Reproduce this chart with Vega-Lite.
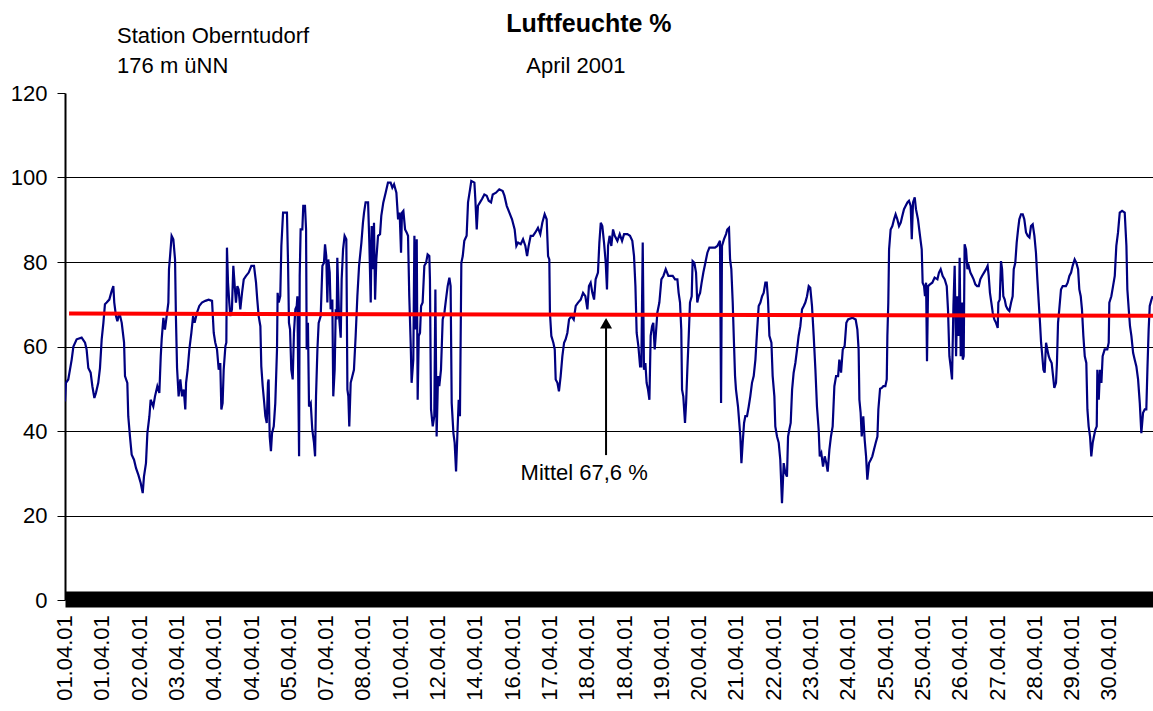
{
  "$schema": "https://vega.github.io/schema/vega-lite/v6.json",
  "width": 1088,
  "height": 507,
  "autosize": "none",
  "padding": {"left": 65, "top": 93, "right": 0, "bottom": 111},
  "background": "white",
  "config": {
    "view": {"stroke": null},
    "font": "Liberation Sans",
    "text": {"font": "Liberation Sans", "color": "black"},
    "axis": {"title": null, "labelFont": "Liberation Sans", "labelColor": "black", "labelFontSize": 22},
    "axisX": {"labels": false, "ticks": false, "grid": false, "domainColor": "black", "domainWidth": 16, "offset": -1},
    "axisY": {"labelPadding": 10, "tickSize": 8, "tickColor": "black", "tickWidth": 1, "domainColor": "black", "domainWidth": 2, "grid": true, "gridColor": "black", "gridWidth": 1}
  },
  "layer": [
    {
      "data": {"values": [
{"i":0,"v":47},{"i":0.6,"v":51.4},{"i":2.1,"v":52.2},{"i":4.3,"v":56.9},{"i":5.4,"v":60},{"i":7.5,"v":61.7},{"i":10.7,"v":62.1},{"i":12.9,"v":60.9},{"i":13.9,"v":59.3},{"i":15.0,"v":54.9},{"i":16.5,"v":53.8},{"i":17.6,"v":50.6},{"i":18.9,"v":47.8},{"i":19.9,"v":49},{"i":21.4,"v":51.4},{"i":22.5,"v":54.9},{"i":23.6,"v":61.7},{"i":24.7,"v":65.6},{"i":25.7,"v":70},{"i":26.8,"v":70.4},{"i":28.5,"v":71.1},{"i":30.0,"v":73.1},{"i":31.1,"v":74.3},{"i":31.7,"v":70.4},{"i":32.8,"v":67.2},{"i":33.7,"v":66},{"i":35.0,"v":68},{"i":36.5,"v":65.6},{"i":38.0,"v":60.9},{"i":38.6,"v":53},{"i":40.1,"v":51.4},{"i":40.7,"v":43.5},{"i":41.8,"v":38.7},{"i":42.9,"v":34.4},{"i":44.4,"v":33.2},{"i":45.7,"v":31.2},{"i":47.2,"v":29.6},{"i":48.7,"v":27.7},{"i":50.0,"v":25.3},{"i":50.8,"v":29.2},{"i":52.1,"v":32.4},{"i":53.0,"v":39.5},{"i":54.3,"v":43.5},{"i":55.1,"v":47.4},{"i":56.8,"v":45.8},{"i":57.9,"v":48.2},{"i":59.4,"v":50.6},{"i":60.7,"v":49},{"i":61.6,"v":57.7},{"i":62.2,"v":61.7},{"i":63.3,"v":66.8},{"i":64.3,"v":64},{"i":65.4,"v":67.2},{"i":66.5,"v":70.4},{"i":66.9,"v":78.3},{"i":67.6,"v":81.4},{"i":68.6,"v":86.2},{"i":69.7,"v":85.4},{"i":70.8,"v":80.6},{"i":71.4,"v":66.4},{"i":72.1,"v":54.9},{"i":73.1,"v":48.2},{"i":74.2,"v":52.2},{"i":75.3,"v":48.2},{"i":76.4,"v":49.8},{"i":77.4,"v":45.1},{"i":77.9,"v":51.4},{"i":78.9,"v":54.5},{"i":80.0,"v":59.3},{"i":81.3,"v":63.2},{"i":82.4,"v":67.2},{"i":83.4,"v":65.6},{"i":84.9,"v":68},{"i":86.4,"v":69.6},{"i":88.1,"v":70.4},{"i":90.3,"v":70.8},{"i":92.4,"v":71.1},{"i":94.6,"v":70.8},{"i":95.7,"v":63.2},{"i":96.7,"v":60.9},{"i":97.8,"v":59.3},{"i":98.9,"v":54.5},{"i":99.9,"v":56.1},{"i":100.6,"v":45.1},{"i":101.4,"v":46.6},{"i":102.1,"v":54.5},{"i":103.2,"v":60.1},{"i":103.8,"v":60.9},{"i":104.2,"v":83.4},{"i":104.9,"v":75.1},{"i":105.7,"v":70.4},{"i":106.4,"v":67.2},{"i":107.4,"v":68.8},{"i":108.3,"v":79.1},{"i":109.2,"v":74.3},{"i":110.0,"v":70.4},{"i":110.9,"v":74.3},{"i":111.7,"v":73.5},{"i":112.8,"v":68.8},{"i":113.9,"v":72.7},{"i":115.0,"v":75.9},{"i":116.5,"v":76.7},{"i":118.2,"v":77.5},{"i":119.9,"v":79.1},{"i":121.6,"v":79.1},{"i":122.9,"v":75.1},{"i":123.7,"v":71.1},{"i":124.6,"v":67.2},{"i":125.7,"v":64.8},{"i":126.3,"v":55.3},{"i":127.2,"v":50.6},{"i":128.0,"v":47.4},{"i":128.9,"v":43.5},{"i":129.8,"v":41.9},{"i":130.6,"v":51.4},{"i":131.0,"v":52.2},{"i":131.7,"v":38.7},{"i":132.5,"v":35.2},{"i":133.2,"v":39.5},{"i":134.3,"v":41.1},{"i":135.3,"v":46.6},{"i":136.4,"v":59.3},{"i":136.8,"v":72.7},{"i":137.5,"v":70.4},{"i":138.5,"v":71.9},{"i":139.2,"v":83.8},{"i":140.3,"v":91.7},{"i":142.8,"v":91.7},{"i":143.5,"v":79.8},{"i":144.1,"v":65.6},{"i":144.8,"v":64},{"i":145.6,"v":54.5},{"i":146.5,"v":52.2},{"i":147.3,"v":63.2},{"i":148.2,"v":68.8},{"i":149.1,"v":69.6},{"i":149.5,"v":71.9},{"i":150.6,"v":34},{"i":151.0,"v":76.7},{"i":151.6,"v":87.7},{"i":152.7,"v":87.7},{"i":153.3,"v":93.3},{"i":154.4,"v":93.3},{"i":155.1,"v":87.7},{"i":155.5,"v":59.3},{"i":156.3,"v":65.6},{"i":157.0,"v":45.8},{"i":158.1,"v":46.6},{"i":159.1,"v":40.3},{"i":160.2,"v":37.2},{"i":160.9,"v":34},{"i":161.5,"v":48.2},{"i":162.4,"v":59.3},{"i":163.2,"v":65.6},{"i":164.5,"v":67.2},{"i":165.6,"v":79.1},{"i":166.6,"v":79.8},{"i":167.3,"v":84.2},{"i":168.1,"v":81.4},{"i":168.8,"v":70.4},{"i":169.4,"v":80.6},{"i":170.3,"v":77.5},{"i":170.9,"v":68.8},{"i":172.0,"v":71.1},{"i":172.6,"v":48.2},{"i":173.5,"v":54.5},{"i":174.2,"v":68.8},{"i":174.8,"v":66.4},{"i":175.2,"v":81},{"i":176.3,"v":67.2},{"i":177.4,"v":62.1},{"i":178.0,"v":75.9},{"i":178.9,"v":83},{"i":179.9,"v":86.2},{"i":181.0,"v":85.4},{"i":181.7,"v":49.8},{"i":182.3,"v":48.2},{"i":182.9,"v":41.1},{"i":183.8,"v":51.4},{"i":184.9,"v":53},{"i":185.9,"v":54.5},{"i":187.0,"v":62.5},{"i":188.1,"v":71.9},{"i":189.2,"v":79.1},{"i":190.7,"v":84.6},{"i":191.7,"v":89.3},{"i":192.4,"v":91.7},{"i":193.4,"v":94.1},{"i":195.0,"v":94.1},{"i":195.8,"v":84.6},{"i":196.7,"v":70.4},{"i":197.3,"v":88.5},{"i":198.2,"v":78.3},{"i":198.8,"v":89.3},{"i":199.5,"v":71.1},{"i":200.3,"v":80.6},{"i":201.4,"v":86.2},{"i":202.7,"v":86.6},{"i":203.5,"v":90.9},{"i":204.8,"v":94.1},{"i":206.3,"v":96.4},{"i":207.8,"v":98.8},{"i":209.5,"v":98.8},{"i":210.6,"v":97.6},{"i":211.7,"v":98.4},{"i":213.2,"v":96.4},{"i":214.3,"v":90.1},{"i":215.3,"v":91.7},{"i":216.2,"v":82.2},{"i":216.8,"v":91.7},{"i":217.7,"v":92.1},{"i":218.8,"v":87.7},{"i":219.8,"v":87},{"i":220.7,"v":86.2},{"i":221.5,"v":71.9},{"i":222.4,"v":60.9},{"i":223.0,"v":51.4},{"i":224.1,"v":56.9},{"i":224.8,"v":86.2},{"i":225.4,"v":64},{"i":226.3,"v":85.4},{"i":226.9,"v":47.4},{"i":227.6,"v":62.5},{"i":228.4,"v":63.2},{"i":229.1,"v":69.6},{"i":230.1,"v":70.4},{"i":231.2,"v":79.1},{"i":232.3,"v":79.8},{"i":233.3,"v":81.8},{"i":234.4,"v":81.4},{"i":234.8,"v":75.9},{"i":235.5,"v":45.1},{"i":236.6,"v":41.1},{"i":237.6,"v":43.5},{"i":238.3,"v":73.5},{"i":239.1,"v":38.7},{"i":240.0,"v":53},{"i":240.8,"v":50.6},{"i":241.9,"v":54.5},{"i":243.0,"v":66.4},{"i":244.1,"v":68},{"i":245.1,"v":71.1},{"i":246.2,"v":74.3},{"i":247.3,"v":76.3},{"i":248.1,"v":74.3},{"i":248.8,"v":46.6},{"i":249.9,"v":39.5},{"i":250.7,"v":37.2},{"i":251.6,"v":30.4},{"i":252.4,"v":38.7},{"i":253.3,"v":47.4},{"i":254.1,"v":43.5},{"i":255.0,"v":79.8},{"i":255.9,"v":81.4},{"i":256.9,"v":85},{"i":258.4,"v":86.2},{"i":259.3,"v":94.1},{"i":260.6,"v":97.2},{"i":261.4,"v":99.2},{"i":263.4,"v":98.8},{"i":264.0,"v":94.9},{"i":264.9,"v":87.7},{"i":265.7,"v":93.3},{"i":267.0,"v":94.1},{"i":268.3,"v":94.9},{"i":269.8,"v":96},{"i":271.3,"v":95.7},{"i":272.6,"v":94.5},{"i":274.1,"v":94.1},{"i":275.2,"v":96},{"i":277.3,"v":96.4},{"i":279.4,"v":97.2},{"i":281.6,"v":96.8},{"i":282.7,"v":95.7},{"i":284.2,"v":93.3},{"i":285.9,"v":91.7},{"i":287.6,"v":90.1},{"i":289.3,"v":87.7},{"i":290.4,"v":83.8},{"i":291.5,"v":84.6},{"i":293.2,"v":84.2},{"i":294.7,"v":85.4},{"i":296.2,"v":83.8},{"i":297.3,"v":81.4},{"i":298.3,"v":83.8},{"i":299.6,"v":86.2},{"i":301.1,"v":86.2},{"i":302.6,"v":87},{"i":304.3,"v":88.1},{"i":305.8,"v":86.6},{"i":307.1,"v":89.3},{"i":308.6,"v":91.3},{"i":309.9,"v":90.1},{"i":310.8,"v":81.4},{"i":311.6,"v":80.6},{"i":312.0,"v":68},{"i":312.9,"v":62.5},{"i":314.2,"v":60.9},{"i":315.1,"v":59.3},{"i":315.7,"v":52.2},{"i":316.8,"v":51.4},{"i":317.8,"v":49.4},{"i":318.9,"v":53},{"i":320.0,"v":57.7},{"i":321.1,"v":60.9},{"i":322.1,"v":61.7},{"i":323.2,"v":63.2},{"i":324.3,"v":66.4},{"i":325.8,"v":67.2},{"i":327.3,"v":66.4},{"i":328.6,"v":69.6},{"i":330.1,"v":70.4},{"i":331.8,"v":71.1},{"i":333.3,"v":72.7},{"i":334.8,"v":71.9},{"i":336.1,"v":68.8},{"i":337.1,"v":74.3},{"i":338.2,"v":75.1},{"i":339.3,"v":72.7},{"i":340.4,"v":71.1},{"i":341.4,"v":75.9},{"i":342.9,"v":77.5},{"i":343.8,"v":84.6},{"i":344.7,"v":89.3},{"i":345.7,"v":88.5},{"i":346.8,"v":84.6},{"i":347.9,"v":79.8},{"i":348.7,"v":73.5},{"i":349.4,"v":83.8},{"i":350.4,"v":86.2},{"i":351.5,"v":83.8},{"i":352.6,"v":87.7},{"i":353.7,"v":86.2},{"i":355.4,"v":85},{"i":356.9,"v":86.6},{"i":358.4,"v":85},{"i":359.7,"v":86.6},{"i":361.8,"v":86.6},{"i":363.5,"v":86.2},{"i":365.0,"v":85},{"i":366.1,"v":81.4},{"i":367.0,"v":74.3},{"i":367.8,"v":63.2},{"i":368.9,"v":60.1},{"i":370.0,"v":55.3},{"i":370.8,"v":55.3},{"i":371.7,"v":84.6},{"i":372.5,"v":54.5},{"i":373.4,"v":56.1},{"i":374.2,"v":51.4},{"i":375.1,"v":49.8},{"i":376.0,"v":47.4},{"i":376.8,"v":62.5},{"i":377.7,"v":64.8},{"i":378.5,"v":65.6},{"i":379.4,"v":59.3},{"i":380.2,"v":63.2},{"i":381.1,"v":68},{"i":382.4,"v":70.4},{"i":383.7,"v":75.9},{"i":385.0,"v":76.7},{"i":386.5,"v":78.3},{"i":388.2,"v":76.7},{"i":391.0,"v":76.7},{"i":392.5,"v":75.9},{"i":394.0,"v":75.9},{"i":394.8,"v":72.7},{"i":395.7,"v":70.4},{"i":396.5,"v":64},{"i":397.0,"v":49.8},{"i":397.8,"v":48.2},{"i":398.9,"v":41.9},{"i":399.6,"v":46.6},{"i":400.4,"v":54.5},{"i":401.3,"v":62.5},{"i":402.1,"v":70.4},{"i":403.2,"v":71.9},{"i":403.8,"v":80.2},{"i":404.9,"v":79.8},{"i":406.0,"v":77.5},{"i":406.8,"v":70.4},{"i":407.7,"v":71.9},{"i":408.6,"v":72.7},{"i":409.6,"v":75.1},{"i":410.7,"v":77.5},{"i":412.0,"v":79.8},{"i":413.3,"v":82.2},{"i":414.6,"v":83.4},{"i":418.2,"v":83.4},{"i":419.7,"v":83.8},{"i":421.4,"v":85},{"i":422.1,"v":46.6},{"i":422.7,"v":83.8},{"i":424.0,"v":85.4},{"i":425.3,"v":86.6},{"i":426.1,"v":87.7},{"i":427.2,"v":88.1},{"i":427.9,"v":80.6},{"i":428.7,"v":78.3},{"i":429.6,"v":70.4},{"i":430.4,"v":60.9},{"i":431.1,"v":53},{"i":431.7,"v":49.8},{"i":433.0,"v":45.8},{"i":434.5,"v":38.7},{"i":435.2,"v":32.4},{"i":436.0,"v":37.2},{"i":436.9,"v":41.9},{"i":437.7,"v":43.5},{"i":438.8,"v":43.5},{"i":439.9,"v":45.8},{"i":440.9,"v":48.2},{"i":442.0,"v":51.4},{"i":443.1,"v":53},{"i":444.2,"v":56.9},{"i":445.2,"v":63.2},{"i":446.3,"v":69.6},{"i":447.4,"v":70.4},{"i":448.5,"v":71.9},{"i":449.5,"v":72.7},{"i":450.6,"v":75.1},{"i":451.5,"v":75.1},{"i":452.3,"v":71.1},{"i":453.2,"v":62.5},{"i":454.5,"v":60.9},{"i":455.3,"v":53},{"i":456.4,"v":48.2},{"i":457.0,"v":41.1},{"i":458.1,"v":38.7},{"i":459.2,"v":37.2},{"i":460.2,"v":33.2},{"i":461.3,"v":22.9},{"i":462.4,"v":32.4},{"i":463.5,"v":30},{"i":464.5,"v":29.2},{"i":465.2,"v":38.7},{"i":466.0,"v":40.3},{"i":466.9,"v":41.9},{"i":467.8,"v":49.8},{"i":468.8,"v":53.8},{"i":469.9,"v":56.1},{"i":471.0,"v":59.3},{"i":472.0,"v":62.5},{"i":473.1,"v":64.8},{"i":474.2,"v":68.8},{"i":475.3,"v":69.6},{"i":476.3,"v":70.4},{"i":477.4,"v":71.9},{"i":478.5,"v":74.3},{"i":479.5,"v":73.9},{"i":480.6,"v":69.6},{"i":481.7,"v":62.5},{"i":482.8,"v":54.5},{"i":483.8,"v":45.8},{"i":484.9,"v":40.3},{"i":485.6,"v":34},{"i":486.6,"v":34.8},{"i":487.7,"v":31.6},{"i":488.8,"v":34},{"i":489.8,"v":32.4},{"i":490.7,"v":30.4},{"i":491.8,"v":35.6},{"i":492.8,"v":38.7},{"i":493.9,"v":41.1},{"i":495.0,"v":50.6},{"i":496.1,"v":53},{"i":497.4,"v":53},{"i":498.2,"v":56.9},{"i":499.3,"v":53.8},{"i":500.4,"v":59.3},{"i":501.6,"v":60.1},{"i":502.7,"v":65.6},{"i":503.8,"v":66.4},{"i":506.6,"v":66.8},{"i":508.7,"v":66.4},{"i":509.8,"v":64},{"i":510.6,"v":59.3},{"i":511.1,"v":47.4},{"i":511.9,"v":44.3},{"i":512.6,"v":38.7},{"i":513.6,"v":43.5},{"i":514.5,"v":37.9},{"i":515.4,"v":34},{"i":516.2,"v":28.5},{"i":517.3,"v":32.4},{"i":518.4,"v":33.2},{"i":519.4,"v":34},{"i":520.5,"v":35.6},{"i":521.6,"v":37.2},{"i":522.7,"v":38.7},{"i":523.3,"v":45.1},{"i":524.4,"v":50},{"i":525.5,"v":50.2},{"i":526.5,"v":50.6},{"i":527.8,"v":50.6},{"i":528.7,"v":52.2},{"i":529.1,"v":62.5},{"i":529.7,"v":70.4},{"i":530.2,"v":83},{"i":531.2,"v":87.7},{"i":532.3,"v":88.5},{"i":533.4,"v":90.1},{"i":534.4,"v":91.3},{"i":535.5,"v":90.1},{"i":536.6,"v":88.5},{"i":537.7,"v":89.3},{"i":538.7,"v":90.9},{"i":539.8,"v":92.5},{"i":540.9,"v":93.3},{"i":542.0,"v":94.1},{"i":543.0,"v":94.5},{"i":544.1,"v":93.3},{"i":544.8,"v":85.4},{"i":545.6,"v":94.1},{"i":546.7,"v":95.3},{"i":547.5,"v":92.5},{"i":548.8,"v":90.1},{"i":550.1,"v":86.2},{"i":551.2,"v":83},{"i":551.8,"v":75.1},{"i":552.7,"v":74.3},{"i":553.3,"v":71.9},{"i":554.0,"v":75.1},{"i":554.6,"v":56.5},{"i":555.3,"v":74.3},{"i":556.5,"v":74.7},{"i":558.0,"v":75.1},{"i":559.5,"v":76.3},{"i":561.3,"v":75.9},{"i":562.3,"v":77.5},{"i":563.4,"v":78.3},{"i":564.7,"v":76.7},{"i":566.0,"v":75.9},{"i":567.3,"v":74.3},{"i":568.1,"v":68.8},{"i":569.0,"v":57.7},{"i":569.8,"v":55.3},{"i":570.7,"v":52.2},{"i":571.6,"v":69.6},{"i":572.4,"v":79.1},{"i":573.3,"v":57.7},{"i":574.1,"v":71.9},{"i":575.0,"v":62.5},{"i":575.6,"v":81},{"i":576.3,"v":57.7},{"i":577.1,"v":70.4},{"i":577.6,"v":56.9},{"i":578.2,"v":57.7},{"i":578.8,"v":84.2},{"i":579.7,"v":83},{"i":580.6,"v":78.3},{"i":581.4,"v":79.1},{"i":582.5,"v":77.5},{"i":583.6,"v":76.7},{"i":584.6,"v":75.9},{"i":585.7,"v":74.7},{"i":586.8,"v":74.3},{"i":587.9,"v":74.3},{"i":588.9,"v":75.9},{"i":590.0,"v":76.7},{"i":591.3,"v":77.5},{"i":592.6,"v":78.3},{"i":593.6,"v":79.1},{"i":594.3,"v":76.7},{"i":595.1,"v":72.7},{"i":596.0,"v":70.4},{"i":596.9,"v":68},{"i":597.9,"v":66.4},{"i":599.0,"v":65.6},{"i":600.1,"v":64.4},{"i":600.5,"v":70.4},{"i":601.4,"v":71.1},{"i":602.2,"v":80.2},{"i":602.9,"v":78.3},{"i":603.7,"v":71.9},{"i":604.6,"v":71.1},{"i":605.4,"v":69.6},{"i":606.5,"v":68.8},{"i":607.6,"v":68.4},{"i":608.7,"v":70.4},{"i":609.7,"v":71.9},{"i":610.4,"v":78.3},{"i":611.4,"v":79.8},{"i":612.3,"v":84.6},{"i":613.2,"v":87.7},{"i":614.0,"v":90.1},{"i":615.1,"v":91.3},{"i":616.2,"v":91.3},{"i":617.2,"v":90.1},{"i":618.3,"v":87},{"i":619.4,"v":86.2},{"i":620.5,"v":85.8},{"i":621.5,"v":88.5},{"i":622.6,"v":88.9},{"i":623.7,"v":86.2},{"i":624.7,"v":82.2},{"i":625.6,"v":75.9},{"i":626.5,"v":70.4},{"i":627.3,"v":65.6},{"i":628.0,"v":60.9},{"i":628.6,"v":58.5},{"i":629.5,"v":54.5},{"i":630.3,"v":53.8},{"i":631.2,"v":60.9},{"i":632.0,"v":59.3},{"i":632.9,"v":57.7},{"i":633.7,"v":56.9},{"i":634.8,"v":56.1},{"i":635.7,"v":53},{"i":636.5,"v":50.2},{"i":637.6,"v":51.4},{"i":638.2,"v":56.1},{"i":638.9,"v":65.6},{"i":639.7,"v":68.8},{"i":640.8,"v":73.5},{"i":641.9,"v":74.3},{"i":644.0,"v":74.3},{"i":645.1,"v":75.1},{"i":646.2,"v":76.7},{"i":647.3,"v":77.5},{"i":648.3,"v":79.1},{"i":649.6,"v":80.6},{"i":650.7,"v":79.8},{"i":651.8,"v":78.3},{"i":652.6,"v":73.5},{"i":653.5,"v":71.9},{"i":654.3,"v":68.8},{"i":655.2,"v":62.5},{"i":656.1,"v":57.7},{"i":657.1,"v":56.1},{"i":657.8,"v":45.1},{"i":658.6,"v":41.1},{"i":659.5,"v":38.7},{"i":660.3,"v":34},{"i":661.2,"v":37.2},{"i":662.0,"v":38.7},{"i":662.9,"v":40.3},{"i":663.8,"v":41.1},{"i":664.2,"v":54.5},{"i":665.1,"v":47.4},{"i":665.9,"v":54.5},{"i":666.8,"v":51.4},{"i":667.6,"v":57.7},{"i":668.9,"v":59.3},{"i":670.6,"v":59.3},{"i":671.5,"v":60.9},{"i":671.9,"v":70.4},{"i":673.2,"v":71.9},{"i":674.3,"v":74.3},{"i":675.4,"v":76.7},{"i":676.4,"v":83.8},{"i":677.5,"v":87},{"i":678.6,"v":91.7},{"i":680.1,"v":92.1},{"i":681.8,"v":91.7},{"i":682.9,"v":83.8},{"i":683.5,"v":73.5},{"i":684.4,"v":68.8},{"i":685.2,"v":64.8},{"i":686.1,"v":62.5},{"i":687.2,"v":58.5},{"i":688.2,"v":56.9},{"i":689.3,"v":55.3},{"i":690.4,"v":52.2},{"i":691.5,"v":46.6},{"i":692.5,"v":39.5},{"i":693.6,"v":44.3},{"i":694.7,"v":45.1},{"i":695.7,"v":45.1},{"i":696.4,"v":54.5},{"i":697.2,"v":64},{"i":697.9,"v":69.6},{"i":699.0,"v":71.1},{"i":699.8,"v":71.9}
      ]},
      "mark": {"type": "line", "color": "#000080", "strokeWidth": 2.2, "clip": true},
      "encoding": {
        "x": {"field": "i", "type": "quantitative",
          "scale": {"domain": [0, 700], "nice": false, "zero": false},
          "axis": {"values": [0,24,48,72,96,120,144,168,192,216,240,264,288,312,336,360,384,408,432,456,480,504,528,552,576,600,624,648,672]}},
        "y": {"field": "v", "type": "quantitative",
          "scale": {"domain": [0, 120], "nice": false, "zero": true},
          "axis": {"values": [0,20,40,60,80,100,120],
            "gridOpacity": {"condition": {"test": "datum.value == 0 || datum.value == 120", "value": 0}, "value": 1}}}
      }
    },
    {
      "data": {"values": [{"i": 2.6, "v": 67.8}, {"i": 700, "v": 67.3}]},
      "mark": {"type": "line", "color": "#FF0000", "strokeWidth": 4},
      "encoding": {"x": {"field": "i", "type": "quantitative"}, "y": {"field": "v", "type": "quantitative"}}
    },
    {
      "data": {"values": [
        {"i": 0, "d": "01.04.01"}, {"i": 24, "d": "01.04.01"}, {"i": 48, "d": "02.04.01"}, {"i": 72, "d": "03.04.01"}, {"i": 96, "d": "04.04.01"}, {"i": 120, "d": "04.04.01"}, {"i": 144, "d": "05.04.01"}, {"i": 168, "d": "07.04.01"}, {"i": 192, "d": "08.04.01"}, {"i": 216, "d": "10.04.01"}, {"i": 240, "d": "12.04.01"}, {"i": 264, "d": "14.04.01"}, {"i": 288, "d": "16.04.01"}, {"i": 312, "d": "17.04.01"}, {"i": 336, "d": "18.04.01"}, {"i": 360, "d": "18.04.01"}, {"i": 384, "d": "19.04.01"}, {"i": 408, "d": "20.04.01"}, {"i": 432, "d": "21.04.01"}, {"i": 456, "d": "22.04.01"}, {"i": 480, "d": "23.04.01"}, {"i": 504, "d": "24.04.01"}, {"i": 528, "d": "25.04.01"}, {"i": 552, "d": "25.04.01"}, {"i": 576, "d": "26.04.01"}, {"i": 600, "d": "27.04.01"}, {"i": 624, "d": "28.04.01"}, {"i": 648, "d": "29.04.01"}, {"i": 672, "d": "30.04.01"}
      ]},
      "mark": {"type": "text", "angle": 270, "align": "right", "baseline": "middle", "fontSize": 22, "color": "black"},
      "encoding": {"x": {"field": "i", "type": "quantitative"}, "y": {"datum": -3.6, "type": "quantitative"}, "text": {"field": "d"}}
    },
    {
      "data": {"values": [{}]},
      "mark": {"type": "rule", "color": "black", "strokeWidth": 2},
      "encoding": {"x": {"datum": 348.1, "type": "quantitative"}, "y": {"datum": 34.3, "type": "quantitative"}, "y2": {"datum": 64.8}}
    },
    {
      "data": {"values": [{}]},
      "mark": {"type": "point", "shape": "triangle-up", "filled": true, "color": "black", "size": 144, "opacity": 1},
      "encoding": {"x": {"datum": 348.1, "type": "quantitative"}, "y": {"datum": 65.5, "type": "quantitative"}}
    },
    {
      "data": {"values": [{}]},
      "mark": {"type": "text", "text": "Mittel 67,6 %", "fontSize": 22, "align": "center", "baseline": "alphabetic", "color": "black"},
      "encoding": {"x": {"datum": 334, "type": "quantitative"}, "y": {"datum": 28.4, "type": "quantitative"}}
    },
    {
      "data": {"values": [{}]},
      "mark": {"type": "text", "text": "Luftfeuchte %", "fontSize": 25, "fontWeight": "bold", "align": "center", "baseline": "alphabetic", "color": "black"},
      "encoding": {"x": {"datum": 337.1, "type": "quantitative"}, "y": {"datum": 134.4, "type": "quantitative"}}
    },
    {
      "data": {"values": [{}]},
      "mark": {"type": "text", "text": "Station Oberntudorf", "fontSize": 22, "align": "left", "baseline": "alphabetic", "color": "black"},
      "encoding": {"x": {"datum": 33.5, "type": "quantitative"}, "y": {"datum": 131.8, "type": "quantitative"}}
    },
    {
      "data": {"values": [{}]},
      "mark": {"type": "text", "text": "176 m üNN", "fontSize": 22, "align": "left", "baseline": "alphabetic", "color": "black"},
      "encoding": {"x": {"datum": 33.5, "type": "quantitative"}, "y": {"datum": 124.7, "type": "quantitative"}}
    },
    {
      "data": {"values": [{}]},
      "mark": {"type": "text", "text": "April 2001", "fontSize": 22, "align": "left", "baseline": "alphabetic", "color": "black"},
      "encoding": {"x": {"datum": 296.8, "type": "quantitative"}, "y": {"datum": 124.7, "type": "quantitative"}}
    }
  ]
}
